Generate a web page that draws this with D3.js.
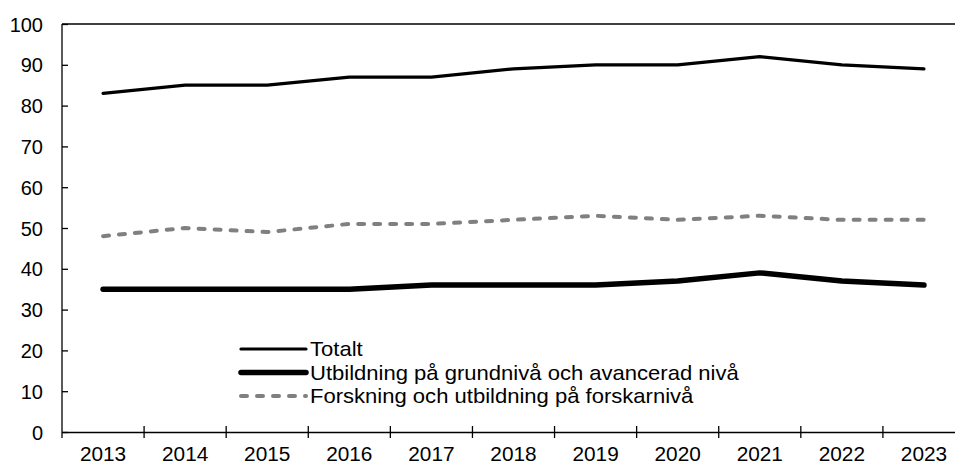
<!DOCTYPE html>
<html>
  <head>
    <meta charset="utf-8" />
    <script src="https://d3js.org/d3.v7.min.js"></script>
    <style>
      body { margin: 0; background: #fff; }
      svg { display: block; font-family: "Liberation Sans", Arial, sans-serif; }
      .axis text { font-size: 20px; fill: #000; }
      .axis path, .axis line { stroke: #000; stroke-width: 1.3px; }
      .legend text { font-size: 21px; fill: #000; }
    </style>
  </head>
  <body>
    <svg id="chart" width="955" height="464"></svg>
    <script>
      const years = ["2013", "2014", "2015", "2016", "2017", "2018", "2019", "2020", "2021", "2022", "2023"];
      const totalt = [83, 85, 85, 87, 87, 89, 90, 90, 92, 90, 89];
      const utbildning = [35, 35, 35, 35, 36, 36, 36, 37, 39, 37, 36];
      const forskning = [48, 50, 49, 51, 51, 52, 53, 52, 53, 52, 52];
      const yTicks = [0, 10, 20, 30, 40, 50, 60, 70, 80, 90, 100];

      const series = [
        { name: "Totalt", values: totalt, color: "#000", width: 3.2, dash: null },
        { name: "Utbildning på grundnivå och avancerad nivå", values: utbildning, color: "#000", width: 5.5, dash: null },
        { name: "Forskning och utbildning på forskarnivå", values: forskning, color: "#808080", width: 4, dash: "6,10" }
      ];

      const svg = d3.select("svg#chart");
      const plotLeft = 62, plotRight = 965, plotTop = 24, plotBottom = 432;

      const x = d3.scaleBand().domain(years).range([plotLeft, plotRight]);
      const y = d3.scaleLinear().domain([0, 100]).range([plotBottom, plotTop]);

      // top border
      svg.append("line")
        .attr("x1", plotLeft).attr("x2", 955)
        .attr("y1", y(100)).attr("y2", y(100))
        .attr("stroke", "#000").attr("stroke-width", 1.3);

      const yAxis = svg.append("g")
        .attr("class", "axis")
        .attr("transform", `translate(${plotLeft},0)`)
        .call(d3.axisRight(y).tickValues(yTicks).tickSize(6).tickSizeOuter(0));
      yAxis.select(".domain").remove();
      yAxis.append("line").attr("x1", 0).attr("x2", 0).attr("y1", plotTop).attr("y2", plotBottom + 6)
        .attr("stroke", "#000").attr("stroke-width", 1.3);
      yAxis.selectAll(".tick text")
        .attr("x", -19).attr("text-anchor", "end").attr("dy", "0.35em");

      const xAxis = svg.append("g")
        .attr("class", "axis")
        .attr("transform", `translate(0,${plotBottom})`)
        .call(d3.axisBottom(x).tickSize(0).tickSizeOuter(0));
      xAxis.selectAll(".tick text")
        .attr("y", 15).attr("dy", "0.71em")
        .attr("transform", "scale(1.04,1)");
      // boundary ticks between categories
      xAxis.selectAll("line.sep")
        .data(years.slice(1))
        .join("line")
        .attr("class", "sep")
        .attr("x1", d => x(d)).attr("x2", d => x(d))
        .attr("y1", -6).attr("y2", 6);

      const line = d3.line()
        .x((d, i) => x(years[i]) + x.bandwidth() / 2)
        .y(d => y(d));

      svg.selectAll("path.series")
        .data(series)
        .join("path")
        .attr("class", "series")
        .attr("d", d => line(d.values))
        .attr("fill", "none")
        .attr("stroke", d => d.color)
        .attr("stroke-width", d => d.width)
        .attr("stroke-linecap", "round")
        .attr("stroke-linejoin", "round")
        .attr("stroke-dasharray", d => d.dash);

      const legend = svg.append("g").attr("class", "legend");
      const rows = legend.selectAll("g")
        .data(series)
        .join("g")
        .attr("transform", (d, i) => `translate(241,${349 + i * 23.5})`);
      rows.append("line")
        .attr("x1", 0).attr("x2", 65)
        .attr("stroke", d => d.color)
        .attr("stroke-width", d => d.width)
        .attr("stroke-linecap", "round")
        .attr("stroke-dasharray", d => d.dash);
      rows.append("text")
        .attr("transform", "translate(69,0) scale(1.05,1)")
        .attr("dy", "0.35em")
        .text(d => d.name);
    </script>
  </body>
</html>
